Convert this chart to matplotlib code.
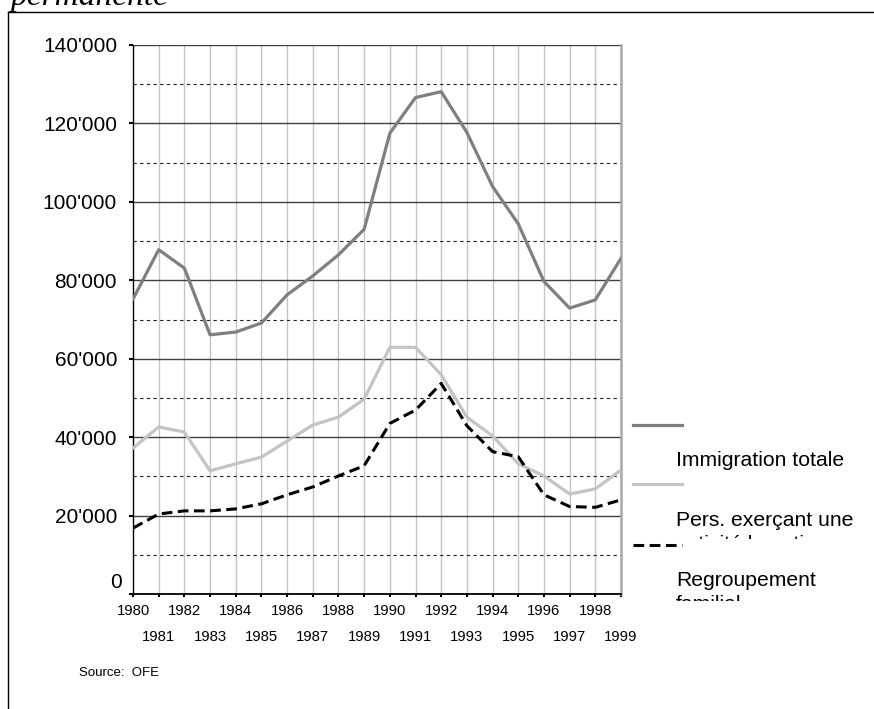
import matplotlib
matplotlib.use("Agg")
import matplotlib.pyplot as plt
from matplotlib.lines import Line2D
from matplotlib.ticker import FixedLocator, FuncFormatter, MultipleLocator
from matplotlib.transforms import Bbox, TransformedBbox

years = list(range(1980, 2000))

# Immigration totale
total = [75200, 87800, 83100, 66100, 66800, 69100, 76300, 81100, 86500, 93000,
         117500, 126600, 128100, 117700, 103900, 94400, 79700, 72900, 75000, 85600]
# Pers. exerçant une activité lucrative
actifs = [37200, 42600, 41300, 31400, 33200, 34900, 39000, 43100, 45100, 49700,
          62900, 62900, 55900, 45100, 40300, 33200, 30100, 25500, 26800, 31600]
# Regroupement familial
famille = [16800, 20400, 21200, 21200, 21700, 23000, 25300, 27300, 30100, 32700,
           43500, 46900, 53700, 42900, 36300, 35000, 25300, 22300, 22100, 24000]

labels = ["Immigration totale", "Pers. exerçant une\nactivité lucrative",
          "Regroupement\nfamilial"]

plt.rcParams['font.family'] = ['Liberation Sans', 'DejaVu Sans']

W, H = 874, 709
fig = plt.figure(figsize=(W / 100, H / 100), dpi=100)
ax = fig.add_axes([133 / W, 1 - 594 / H, (621 - 133) / W, (594 - 45) / H])


def fy(y):
    return 1 - y / H


# gridlines
for v in range(20000, 140001, 20000):
    ax.axhline(v, color='#404040', lw=1.0, zorder=1)
for v in range(10000, 140000, 20000):
    ax.axhline(v, color='#202020', lw=0.8, ls=(0, (3, 3)), zorder=1)
for yr in years[1:-1]:
    ax.axvline(yr, color='#c4c4c4', lw=1.0, zorder=0.5)

ax.plot(years, total, color='#7f7f7f', lw=2.3, zorder=3)
ax.plot(years, actifs, color='#c4c4c4', lw=2.3, zorder=3)
ax.plot(years, famille, color='black', lw=2.2, dashes=(3.5, 1.8), zorder=4)

ax.set_xlim(1980, 1999)
ax.set_ylim(0, 140000)

ax.spines['top'].set_visible(False)
ax.spines['right'].set_color('#a8a8a8')
ax.spines['right'].set_linewidth(1.8)
ax.spines['left'].set_linewidth(1.0)
ax.spines['bottom'].set_linewidth(1.3)

ax.yaxis.set_major_locator(MultipleLocator(20000))
ax.yaxis.set_major_formatter(
    FuncFormatter(lambda v, p: "" if v == 0 else f"{int(v):,}".replace(",", "'")))
ax.tick_params(axis='y', direction='out', length=3, width=1.5, pad=8.5, labelsize=15)
# the zero label sits a little higher and further right in the original
ax.annotate("0", xy=(1980, 0), xytext=(-11, 11), textcoords='offset pixels',
            ha='right', va='center', fontsize=15, annotation_clip=False)

even = [y for y in years if y % 2 == 0]
odd = [y for y in years if y % 2 == 1]
ax.xaxis.set_major_locator(FixedLocator(even))
ax.xaxis.set_minor_locator(FixedLocator(odd))
ax.set_xticklabels([str(y) for y in even])
ax.set_xticklabels([str(y) for y in odd], minor=True)
ax.tick_params(axis='x', which='major', direction='out', length=2, width=1.5, pad=5, labelsize=10.7)
ax.tick_params(axis='x', which='minor', direction='out', length=2, width=1.5, pad=24, labelsize=10.7)

# legend, drawn by hand to match the original layout
styles = [dict(color='#7f7f7f', lw=2.3),
          dict(color='#c4c4c4', lw=2.3),
          dict(color='black', lw=2.2, dashes=(3.5, 1.8))]
handle_y = [425, 484, 545]
text_y = [461, 521, 580]
clip_y = [470, 539, 601]
for st, hy, ty, cy, lab in zip(styles, handle_y, text_y, clip_y, labels):
    fig.add_artist(Line2D([633 / W, 682 / W], [fy(hy), fy(hy)],
                          transform=fig.transFigure, **st))
    box = TransformedBbox(Bbox.from_extents(660 / W, fy(cy), 1, fy(hy + 10)),
                          fig.transFigure)
    for i, line in enumerate(lab.split("\n")):
        t = fig.text(676 / W, fy(ty + 24 * i), line, fontsize=15.2, va='center', ha='left')
        t.set_clip_box(box)
        t.set_clip_on(True)

fig.text(79 / W, fy(673), "Source:  OFE", fontsize=9.5, va='center', ha='left')

# surrounding frame and cut-off title
fig.add_artist(Line2D([8 / W, 1], [fy(11.5), fy(11.5)], transform=fig.transFigure,
                      color='black', lw=1.0))
fig.add_artist(Line2D([8 / W, 8 / W], [0, fy(11.5)], transform=fig.transFigure,
                      color='black', lw=1.0))
fig.text(11 / W, fy(5), "permanente", fontsize=24, fontstyle='italic',
         family=['Liberation Serif', 'DejaVu Serif'], va='baseline', ha='left')

fig.savefig("out.png", dpi=100)
